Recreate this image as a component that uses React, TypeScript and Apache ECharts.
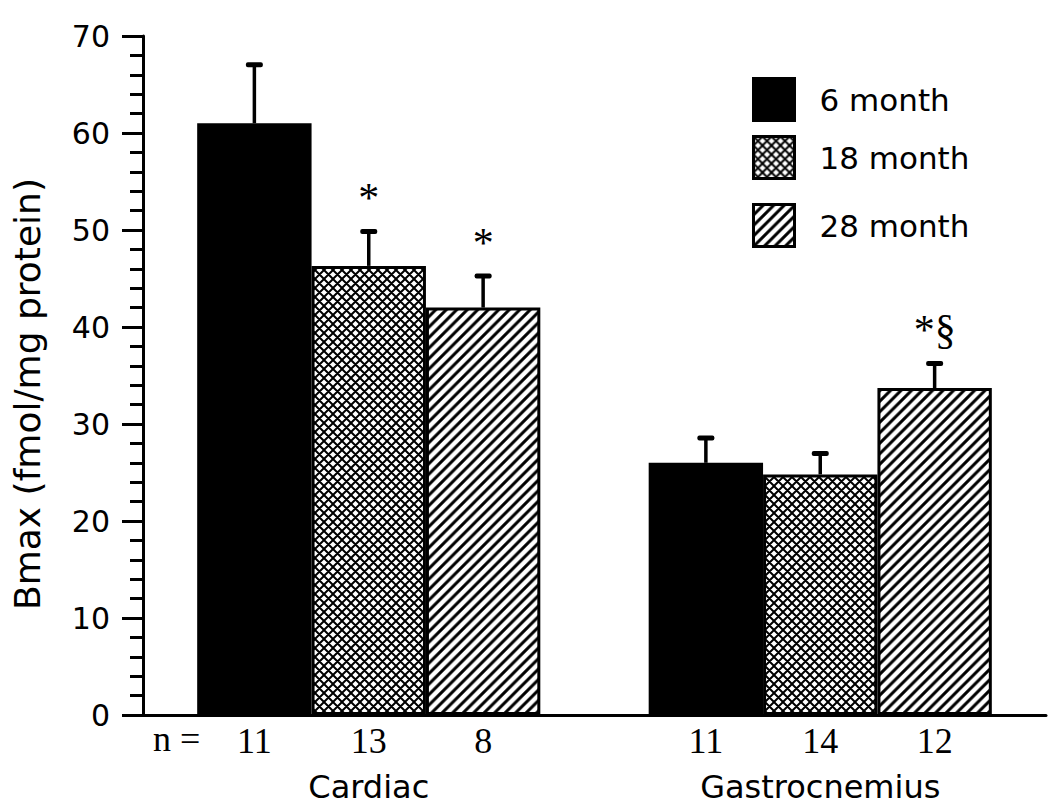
import React, { useEffect, useRef } from "react";
import * as echarts from "echarts";

const categories = ["Cardiac", "Gastrocnemius"];
const seriesNames = ["6 month", "18 month", "28 month"];
const mean6 = [61.0, 26.0];
const mean18 = [46.3, 24.8];
const mean28 = [42.0, 33.7];
const sem6 = [6.1, 2.6];
const sem18 = [3.6, 2.2];
const sem28 = [3.3, 2.6];
const n6 = ["11", "11"];
const n18 = ["13", "14"];
const n28 = ["8", "12"];
const sig6 = ["", ""];
const sig18 = ["*", ""];
const sig28 = ["*", "*§"];
const yTicks = [0, 10, 20, 30, 40, 50, 60, 70];
const yTitle = "Bmax (fmol/mg protein)";

const SANS = "DejaVu Sans";
const SERIF = "Liberation Serif";
const GAP = 0.24;

function svgPattern(svg: string, size: number) {
  return {
    image: "data:image/svg+xml;charset=utf-8," + encodeURIComponent(svg),
    repeat: "repeat",
    imageWidth: size,
    imageHeight: size,
  } as any;
}

function crossHatch(T: number, w: number) {
  let d = "";
  for (const c of [-T, 0, T]) d += `M-2,${-2 + c}L${T + 2},${T + 2 + c}`;
  for (const c of [0, T, 2 * T]) d += `M-2,${2 + c}L${T + 2},${-T - 2 + c}`;
  const svg = `<svg xmlns='http://www.w3.org/2000/svg' width='${T}' height='${T}'><rect width='${T}' height='${T}' fill='white'/><path d='${d}' stroke='black' stroke-width='${w}' fill='none'/></svg>`;
  return svgPattern(svg, T);
}

function diagHatch(T: number, w: number) {
  let d = "";
  for (const c of [0, T, 2 * T]) d += `M-2,${2 + c}L${T + 2},${-T - 2 + c}`;
  const svg = `<svg xmlns='http://www.w3.org/2000/svg' width='${T}' height='${T}'><rect width='${T}' height='${T}' fill='white'/><path d='${d}' stroke='black' stroke-width='${w}' fill='none'/></svg>`;
  return svgPattern(svg, T);
}

export default function App() {
  const ref = useRef<HTMLDivElement>(null);
  useEffect(() => {
    if (!ref.current) return;
    const chart = echarts.init(ref.current, null, { renderer: "svg" });
    const means = [mean6, mean18, mean28];
    const sems = [sem6, sem18, sem28];
    const ns = [n6, n18, n28];
    const sigs = [sig6, sig18, sig28];
    const fills = ["#000", crossHatch(9, 2), diagHatch(10.5, 3)];

    const barSeries = seriesNames.map((name, s) => ({
      type: "bar",
      name,
      data: means[s],
      barGap: "0%",
      barCategoryGap: GAP * 100 + "%",
      itemStyle: { color: fills[s], borderColor: "#000", borderWidth: 3 },
      z: 2,
    }));

    const errSeries = seriesNames.map((name, s) => ({
      type: "custom",
      name: "err-" + name,
      z: 3,
      data: categories.map((_, g) => [g, means[s][g], sems[s][g]]),
      encode: { x: 0, y: 1 },
      renderItem: (params: any, api: any) => {
        const g = api.value(0);
        const m = api.value(1);
        const e = api.value(2);
        const base = api.coord([g, 0]);
        const barTop = api.coord([g, m]);
        const top = api.coord([g, m + e]);
        const band = api.size([1, 0])[0];
        const bw = (band * (1 - GAP)) / 3;
        const x = base[0] + (s - 1) * bw;
        const children: any[] = [
          {
            type: "line",
            shape: { x1: x, y1: barTop[1], x2: x, y2: top[1] + 2 },
            style: { stroke: "#000", lineWidth: 3.5 },
          },
          {
            type: "rect",
            shape: { x: x - 8.5, y: top[1] - 2, width: 17, height: 5, r: 2 },
            style: { fill: "#000" },
          },
          {
            type: "text",
            style: {
              text: ns[s][g],
              x: x,
              y: base[1] + 26,
              align: "center",
              verticalAlign: "middle",
              font: `36px "${SERIF}"`,
              fill: "#000",
            },
          },
        ];
        const sg = sigs[s][g];
        if (sg) {
          children.push({
            type: "text",
            style: {
              text: sg,
              x: x,
              y: top[1] - 33,
              align: "center",
              verticalAlign: "middle",
              font: `42px "${SERIF}"`,
              fill: "#000",
            },
          });
        }
        return { type: "group", children };
      },
    }));

    const legendTops = [77, 135, 203];
    const option: any = {
      animation: false,
      backgroundColor: "#fff",
      grid: { left: 143, right: 4, top: 36, bottom: 92, containLabel: false },
      legend: seriesNames.map((name, i) => ({
        data: [name],
        left: 752,
        top: legendTops[i],
        orient: "vertical",
        icon: "rect",
        itemWidth: 41,
        itemHeight: 42,
        selectedMode: false,
        padding: 0,
        itemStyle: { borderColor: "#000", borderWidth: 3 },
        textStyle: { fontFamily: SANS, fontSize: 31, color: "#000", padding: [0, 0, 0, 20] },
      })),
      xAxis: {
        type: "category",
        data: categories,
        axisLine: { lineStyle: { color: "#000", width: 3 } },
        axisTick: { show: false },
        axisLabel: { color: "#000", fontFamily: SANS, fontSize: 32, margin: 56 },
      },
      yAxis: {
        type: "value",
        min: yTicks[0],
        max: yTicks[yTicks.length - 1],
        interval: yTicks[1] - yTicks[0],
        axisLine: { show: true, lineStyle: { color: "#000", width: 3 } },
        axisTick: { show: true, length: 21, lineStyle: { color: "#000", width: 3 } },
        minorTick: { show: true, splitNumber: 5, length: 13, lineStyle: { color: "#000", width: 3 } },
        splitLine: { show: false },
        axisLabel: { color: "#000", fontFamily: SANS, fontSize: 30, margin: 33 },
      },
      graphic: [
        {
          type: "text",
          left: 153,
          top: 721,
          style: { text: "n =", font: `36px "${SERIF}"`, fill: "#000" },
        },
        {
          type: "text",
          x: 27,
          y: 394,
          rotation: Math.PI / 2,
          style: {
            text: yTitle,
            align: "center",
            verticalAlign: "middle",
            font: `36px "${SANS}"`,
            fill: "#000",
          },
        },
      ],
      series: [...barSeries, ...errSeries],
    };
    chart.setOption(option);
    return () => chart.dispose();
  }, []);
  return (
    <div
      ref={ref}
      style={{ position: "fixed", left: 0, top: 0, width: 1050, height: 807, background: "#fff" }}
    />
  );
}
